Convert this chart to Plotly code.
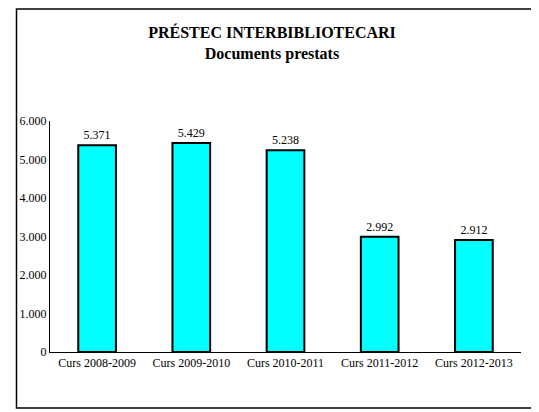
import plotly.graph_objects as go

categories = ["Curs 2008-2009", "Curs 2009-2010", "Curs 2010-2011", "Curs 2011-2012", "Curs 2012-2013"]
values = [5371, 5429, 5238, 2992, 2912]
labels = ["5.371", "5.429", "5.238", "2.992", "2.912"]
tickvals = [0, 1000, 2000, 3000, 4000, 5000, 6000]
ticktext = ["0", "1.000", "2.000", "3.000", "4.000", "5.000", "6.000"]

font = "Liberation Serif, Times New Roman, serif"
fig = go.Figure(go.Bar(
    x=categories, y=values, text=labels, textposition="outside",
    textfont=dict(family=font, size=12, color="black"),
    marker=dict(color="#00FFFF", line=dict(color="black", width=2)),
    cliponaxis=False,
))
fig.update_layout(
    width=528, height=401, margin=dict(l=35, r=15, t=113, b=57),
    paper_bgcolor="white", plot_bgcolor="white", bargap=0.6, showlegend=False,
    font=dict(family=font, size=12, color="black"),
    title=dict(text="<b>PRÉSTEC INTERBIBLIOTECARI</b><br><b>Documents prestats</b>",
               x=0.5, xanchor="center", y=0.925, yanchor="middle",
               font=dict(family=font, size=16, color="black")),
    xaxis=dict(showline=True, linecolor="black", linewidth=1, ticks="", tickfont=dict(size=12)),
    yaxis=dict(range=[0, 6000], tickvals=tickvals, ticktext=ticktext, showline=True,
               linecolor="black", linewidth=1, showgrid=False, ticks="", tickfont=dict(size=12),
               zeroline=False),
    shapes=[dict(type="rect", xref="paper", yref="paper", x0=-34/478, x1=1+14/478,
                 y0=-56/231, y1=1+112/231, line=dict(color="black", width=1.5))],
)
fig.write_html("out.html")
